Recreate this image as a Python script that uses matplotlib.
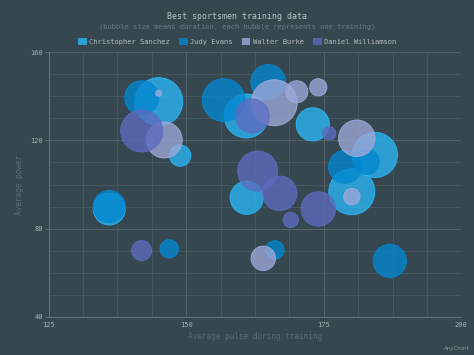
import matplotlib
matplotlib.use("Agg")
import matplotlib.pyplot as plt
from matplotlib.patches import Patch
from matplotlib.ticker import MultipleLocator
from matplotlib.colors import to_rgba
import numpy as np

# ---- data ----
series_names = ["Christopher Sanchez", "Judy Evans", "Walter Burke", "Daniel Williamson"]

chris_pulse = [145.0, 148.9, 160.9, 173.0, 184.3, 180.1, 161.0, 136.0]
chris_power = [137.6, 113.1, 131.1, 127.3, 113.4, 96.7, 94.0, 88.9]
chris_duration = [120, 53, 110, 83, 113, 115, 83, 80]

judy_pulse = [141.9, 156.8, 164.9, 178.9, 182.8, 136.0, 146.9, 166.1, 187.0]
judy_power = [139.4, 138.3, 146.5, 108.1, 110.3, 90.0, 70.8, 70.3, 65.3]
judy_duration = [85, 107, 87, 83, 63, 80, 46, 46, 83]

walter_pulse = [145.0, 146.0, 166.0, 170.1, 174.0, 181.0, 180.1, 164.0]
walter_power = [141.4, 120.2, 137.1, 142.1, 144.1, 121.0, 94.5, 66.5]
walter_duration = [15, 90, 115, 55, 43, 91, 41, 61]

daniel_pulse = [141.9, 162.0, 176.0, 163.0, 167.0, 169.0, 174.0, 141.9]
daniel_power = [124.3, 131.1, 123.2, 106.1, 96.0, 83.9, 88.9, 70.0]
daniel_duration = [105, 85, 33, 100, 86, 38, 86, 50]

title = "Best sportsmen training data"
subtitle = "(bubble size means duration, each bubble represents one training)"
x_title = "Average pulse during training"
y_title = "Average power"
x_ticks = [125, 150, 175, 200]
y_ticks = [40, 80, 120, 160]

# ---- style ----
W, H, DPI = 474, 355, 72
BG = "#37474f"
colors = ["#29b6f6", "#0288d1", "#9fa8da", "#5c6bc0"]
FONT = "DejaVu Sans Mono"

fig = plt.figure(figsize=(W / DPI, H / DPI), dpi=DPI, facecolor=BG)
L, R, T, B = 48.7, 461.3, 52.3, 316.7
ax = fig.add_axes([L / W, 1 - B / H, (R - L) / W, (B - T) / H])
ax.set_facecolor(BG)

ax.set_xlim(125, 200)
ax.set_ylim(40, 160)
ax.xaxis.set_major_locator(MultipleLocator(25))
ax.xaxis.set_minor_locator(MultipleLocator(6.25))
ax.yaxis.set_major_locator(MultipleLocator(40))
ax.yaxis.set_minor_locator(MultipleLocator(10))
ax.grid(which="minor", color="#4b5a62", linewidth=0.8)
ax.grid(which="major", color="#56666e", linewidth=0.9)
ax.set_axisbelow(True)
for s in ["top", "right"]:
    ax.spines[s].set_visible(False)
for s in ["left", "bottom"]:
    ax.spines[s].set_color("#66767e")
    ax.spines[s].set_linewidth(0.9)

ax.tick_params(which="minor", length=0)
ax.tick_params(axis="y", which="major", length=4, color="#66767e", pad=2,
               labelsize=7, labelcolor="#a9b3b8")
ax.tick_params(axis="x", which="major", length=0, pad=5,
               labelsize=7, labelcolor="#a9b3b8")
ax.set_xticks(x_ticks)
ax.set_yticks(y_ticks)
for lbl in ax.get_xticklabels() + ax.get_yticklabels():
    lbl.set_family(FONT)

ax.set_xlabel(x_title, fontsize=7.7, color="#5b6b73", family=FONT, labelpad=4)
ax.set_ylabel(y_title, fontsize=7.7, color="#5b6b73", family=FONT, labelpad=6)

def radius_px(d):
    return np.asarray(d, dtype=float) / 5.0

all_series = [
    (chris_pulse, chris_power, chris_duration),
    (judy_pulse, judy_power, judy_duration),
    (walter_pulse, walter_power, walter_duration),
    (daniel_pulse, daniel_power, daniel_duration),
]
for (xs, ys, ds), c in zip(all_series, colors):
    r = radius_px(ds)
    ax.scatter(xs, ys, s=(2 * r) ** 2, facecolor=to_rgba(c, 0.78),
               edgecolor=to_rgba(c, 1.0), linewidth=0.9, zorder=3, clip_on=False)

fig.text(0.5, 1 - 16.7 / H, title, ha="center", va="center", fontsize=8.3,
         color="#bcc4c8", family=FONT)
fig.text(0.5, 1 - 26.5 / H, subtitle, ha="center", va="center", fontsize=7.1,
         color="#6c7c84", family=FONT)

handles = [Patch(facecolor=to_rgba(c, 0.8), edgecolor="none") for c in colors]
leg = fig.legend(handles, series_names, loc="center", bbox_to_anchor=(237.5 / W, 1 - 41.5 / H),
                 ncol=4, frameon=False, handlelength=1.15, handleheight=1.15,
                 handletextpad=0.4, columnspacing=1.3, borderpad=0,
                 prop={"family": FONT, "size": 7.1})
for t in leg.get_texts():
    t.set_color("#b3bcc0")

fig.text(470 / W, 1 - 348.5 / H, "AnyChart", ha="right", va="center", fontsize=5.5,
         color="#8a979d", family="DejaVu Sans")

fig.savefig("out.png", dpi=DPI, facecolor=BG)
